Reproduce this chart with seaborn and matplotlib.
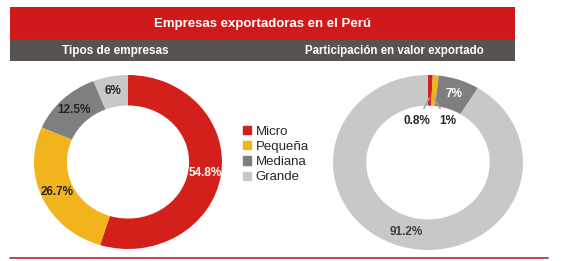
import matplotlib
matplotlib.use("Agg")
import matplotlib.pyplot as plt
from matplotlib.patches import Rectangle
from matplotlib.lines import Line2D
import numpy as np
import seaborn as sns

# ---- data ----
categories = ["Micro", "Pequeña", "Mediana", "Grande"]
tipos_values = [54.8, 26.7, 12.5, 6.0]
tipos_labels = ["54.8%", "26.7%", "12.5%", "6%"]
valor_values = [0.8, 1.0, 7.0, 91.2]
valor_labels = ["0.8%", "1%", "7%", "91.2%"]
title = "Empresas exportadoras en el Perú"
subtitle_left = "Tipos de empresas"
subtitle_right = "Participación en valor exportado"

sns.set_theme(style="white")
plt.rcParams["font.family"] = ["Liberation Sans", "DejaVu Sans"]
palette = sns.color_palette(["#D4201A", "#F2B41C", "#7F7F7F", "#C8C8C8"])

W, H = 561, 261
fig = plt.figure(figsize=(W / 100, H / 100), dpi=100)
fig.patch.set_facecolor("white")


def px_rect(x0, y0, x1, y1):
    return [x0 / W, 1 - y1 / H, (x1 - x0) / W, (y1 - y0) / H]


# header bars
fig.add_artist(Rectangle((10 / W, 1 - 39 / H), 505 / W, 32 / H,
                         transform=fig.transFigure, color="#D0191A", lw=0))
fig.add_artist(Rectangle((10 / W, 1 - 61 / H), 505 / W, 22 / H,
                         transform=fig.transFigure, color="#58534F", lw=0))
fig.text(263 / W, 1 - 24 / H, title, color="white", fontsize=9.5,
         fontweight="bold", ha="center", va="center")
fig.text(115 / W, 1 - 51 / H, subtitle_left, color="white", fontsize=8.5,
         fontweight="bold", ha="center", va="center")
fig.text(394 / W, 1 - 51 / H, subtitle_right, color="white", fontsize=8.3,
         fontweight="bold", ha="center", va="center")

# bottom line
fig.add_artist(Line2D([10 / W, 548 / W], [1 - 258 / H, 1 - 258 / H],
                      transform=fig.transFigure, color="#B8282A", lw=1.2))


def donut(ax, values):
    wedges, _ = ax.pie(values, colors=palette, startangle=90, counterclock=False,
                       radius=1, wedgeprops=dict(width=0.35, linewidth=0))
    ax.set_aspect("auto")
    ax.set_xlim(-1, 1)
    ax.set_ylim(-1, 1)
    ax.axis("off")
    return wedges


def mid_pos(w, r=0.83):
    ang = np.deg2rad((w.theta1 + w.theta2) / 2)
    return r * np.cos(ang), r * np.sin(ang)


FS = 8.5

# left donut
axL = fig.add_axes(px_rect(34, 75, 222, 249))
wl = donut(axL, tipos_values)
lcolors = ["white", "#262626", "#262626", "#262626"]
for w, lab, c in zip(wl, tipos_labels, lcolors):
    x, y = mid_pos(w)
    axL.text(x, y, lab, color=c, fontsize=FS, fontweight="bold",
             ha="center", va="center")

# right donut
axR = fig.add_axes(px_rect(333, 75, 523, 250))
wr = donut(axR, valor_values)
x, y = mid_pos(wr[2])
axR.text(x, y, valor_labels[2], color="white", fontsize=FS, fontweight="bold",
         ha="center", va="center")
x, y = mid_pos(wr[3])
axR.text(x, y, valor_labels[3], color="#404040", fontsize=FS, fontweight="bold",
         ha="center", va="center")
# small slices with leader lines
x0, y0 = mid_pos(wr[0], 0.74)
axR.annotate(valor_labels[0], xy=(x0, y0), xytext=(-0.12, 0.47),
             fontsize=FS, fontweight="bold", color="#262626",
             ha="center", va="center",
             arrowprops=dict(arrowstyle="-", color="#A0A0A0", lw=1.1,
                             shrinkA=3, shrinkB=0))
x1, y1 = mid_pos(wr[1], 0.74)
axR.annotate(valor_labels[1], xy=(x1, y1), xytext=(0.21, 0.47),
             fontsize=FS, fontweight="bold", color="#262626",
             ha="center", va="center",
             arrowprops=dict(arrowstyle="-", color="#A0A0A0", lw=1.1,
                             shrinkA=3, shrinkB=0))

# legend
handles = [Rectangle((0, 0), 1, 1, color=c) for c in palette]
fig.legend(handles, categories, loc="upper left",
           bbox_to_anchor=(236 / W, 1 - 119 / H), frameon=False,
           fontsize=9.5, handlelength=0.6, handleheight=0.6,
           handletextpad=0.4, labelspacing=0.25, borderpad=0)

fig.savefig("out.png", dpi=100)
